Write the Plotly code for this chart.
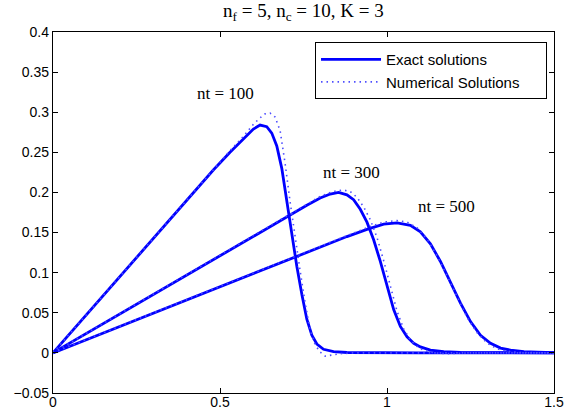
import plotly.graph_objects as go

# Profiles u(x) at three time levels: exact solution vs. numerical scheme
x_ex_100 = [0, 0.1, 0.2, 0.3, 0.4, 0.48, 0.53, 0.57, 0.60, 0.62, 0.64, 0.655, 0.67, 0.685,
            0.70, 0.715, 0.73, 0.745, 0.76, 0.775, 0.79, 0.81, 0.84, 0.88, 0.95, 1.1, 1.5]
u_ex_100 = [0, 0.0475, 0.095, 0.1425, 0.19, 0.228, 0.250, 0.267, 0.279, 0.284, 0.282, 0.274,
            0.258, 0.230, 0.189, 0.146, 0.108, 0.073, 0.042, 0.022, 0.011, 0.0045, 0.0015,
            0.0005, 0.0001, 0, 0]

x_num_100 = [0, 0.1, 0.2, 0.3, 0.4, 0.48, 0.53, 0.57, 0.60, 0.62, 0.635, 0.65, 0.665, 0.68,
             0.695, 0.71, 0.725, 0.74, 0.755, 0.77, 0.785, 0.80, 0.815, 0.83, 0.86, 0.9, 1.0, 1.5]
u_num_100 = [0, 0.0475, 0.095, 0.1425, 0.19, 0.229, 0.252, 0.270, 0.285, 0.293, 0.298, 0.299,
             0.294, 0.277, 0.236, 0.188, 0.143, 0.102, 0.062, 0.028, 0.010, 0.001, -0.004,
             -0.003, -0.001, 0, 0, 0]

x_ex_300 = [0, 0.1, 0.2, 0.3, 0.4, 0.5, 0.6, 0.7, 0.76, 0.80, 0.83, 0.855, 0.88, 0.90, 0.92,
            0.94, 0.96, 0.98, 1.00, 1.02, 1.04, 1.06, 1.08, 1.10, 1.13, 1.17, 1.22, 1.3, 1.5]
u_ex_300 = [0, 0.0243, 0.0486, 0.0729, 0.0972, 0.1215, 0.1458, 0.170, 0.184, 0.193, 0.198,
            0.200, 0.197, 0.191, 0.179, 0.163, 0.141, 0.114, 0.083, 0.054, 0.033, 0.020,
            0.012, 0.0075, 0.0035, 0.0015, 0.0006, 0.0002, 0]

x_num_300 = [0, 0.1, 0.2, 0.3, 0.4, 0.5, 0.6, 0.7, 0.76, 0.80, 0.83, 0.85, 0.87, 0.89, 0.91,
             0.93, 0.95, 0.97, 0.99, 1.01, 1.03, 1.05, 1.07, 1.09, 1.11, 1.14, 1.18, 1.25, 1.5]
u_num_300 = [0, 0.0243, 0.0486, 0.0729, 0.0972, 0.1215, 0.1458, 0.170, 0.185, 0.195, 0.200,
             0.202, 0.203, 0.201, 0.194, 0.182, 0.166, 0.144, 0.115, 0.083, 0.052, 0.030,
             0.016, 0.008, 0.003, 0.0, -0.001, 0, 0]

x_ex_500 = [0, 0.1, 0.2, 0.3, 0.4, 0.5, 0.6, 0.7, 0.8, 0.88, 0.94, 0.99, 1.03, 1.07, 1.10,
            1.13, 1.16, 1.19, 1.22, 1.25, 1.28, 1.31, 1.34, 1.37, 1.41, 1.45, 1.5]
u_ex_500 = [0, 0.0165, 0.033, 0.0495, 0.066, 0.0825, 0.099, 0.1155, 0.132, 0.145, 0.154,
            0.1605, 0.162, 0.159, 0.151, 0.136, 0.114, 0.088, 0.062, 0.039, 0.022, 0.012,
            0.006, 0.0035, 0.0015, 0.0008, 0.0003]

x_num_500 = [0, 0.1, 0.2, 0.3, 0.4, 0.5, 0.6, 0.7, 0.8, 0.88, 0.94, 0.99, 1.03, 1.06, 1.09,
             1.12, 1.15, 1.18, 1.21, 1.24, 1.27, 1.30, 1.33, 1.36, 1.40, 1.45, 1.5]
u_num_500 = [0, 0.0165, 0.033, 0.0495, 0.066, 0.0825, 0.099, 0.1155, 0.132, 0.146, 0.156,
             0.163, 0.165, 0.163, 0.156, 0.142, 0.121, 0.096, 0.069, 0.044, 0.025, 0.012,
             0.005, 0.002, 0.0005, 0, 0]

step_labels = ["nt = 100", "nt = 300", "nt = 500"]
label_x = [0.515, 0.895, 1.178]
label_y = [0.323, 0.225, 0.183]

x_ticks = [0, 0.5, 1, 1.5]
y_ticks = [-0.05, 0, 0.05, 0.1, 0.15, 0.2, 0.25, 0.3, 0.35, 0.4]

BLUE = "#0000ff"
exact = [(x_ex_100, u_ex_100), (x_ex_300, u_ex_300), (x_ex_500, u_ex_500)]
numer = [(x_num_100, u_num_100), (x_num_300, u_num_300), (x_num_500, u_num_500)]

PAD = "\u00a0" * 5  # widens the legend box a little

fig = go.Figure()
for i, (xs, us) in enumerate(exact):
    fig.add_trace(go.Scatter(
        x=xs, y=us, mode="lines", name="Exact solutions",
        line=dict(color=BLUE, width=2.8), legendgroup="exact",
        showlegend=(i == 0)))
for i, (xs, us) in enumerate(numer):
    fig.add_trace(go.Scatter(
        x=xs, y=us, mode="lines", name="Numerical Solutions" + PAD,
        line=dict(color="#4d4dff", width=1.6, dash="1.5px,4px"), legendgroup="num",
        showlegend=(i == 0)))

for t, lx, ly in zip(step_labels, label_x, label_y):
    fig.add_annotation(x=lx, y=ly, text=t, showarrow=False,
                       font=dict(family="Liberation Serif", size=17, color="black"))

fig.add_annotation(xref="paper", yref="paper", x=0.5, y=1, yanchor="bottom", yshift=6,
                   text="n<sub>f</sub> = 5, n<sub>c</sub> = 10, K = 3", showarrow=False,
                   font=dict(family="Liberation Serif", size=19, color="black"))

axis_common = dict(showline=True, linecolor="black", linewidth=1.3, mirror="ticks",
                   ticks="inside", ticklen=5, tickwidth=1, tickcolor="black",
                   showgrid=False, zeroline=False, automargin=False,
                   tickfont=dict(family="Liberation Sans", size=14, color="black"))

fig.update_xaxes(range=[0, 1.5], tickvals=x_ticks, ticklabelstandoff=-4, **axis_common)
fig.update_yaxes(range=[-0.05, 0.4], tickvals=y_ticks, ticklabelstandoff=0, **axis_common)

fig.update_layout(
    width=565, height=413,
    margin=dict(l=53, r=11, t=32, b=20),
    paper_bgcolor="white", plot_bgcolor="white",
    legend=dict(x=0.523, y=0.972, xanchor="left", yanchor="top",
                bgcolor="white", bordercolor="black", borderwidth=1,
                font=dict(family="Liberation Sans", size=15, color="black"),
                itemwidth=60, tracegroupgap=0),
)

fig.write_html("out.html")
